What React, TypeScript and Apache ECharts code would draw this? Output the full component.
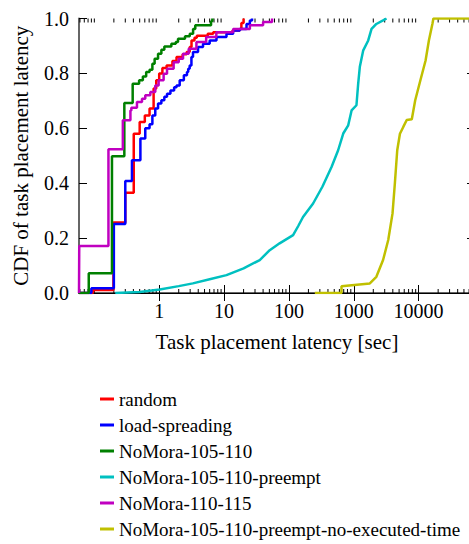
import React, { useEffect, useRef } from "react";
import * as echarts from "echarts";

const seriesNames = [
  "random",
  "load-spreading",
  "NoMora-105-110",
  "NoMora-105-110-preempt",
  "NoMora-110-115",
  "NoMora-105-110-preempt-no-executed-time",
];
const seriesColors = ["#ff0000", "#0000ff", "#008000", "#00c0c0", "#c000c0", "#c0c000"];
const stepped = [true, true, true, false, true, false];

const randomCdf = [
  [0.058, 0], [0.095, 0.011], [0.197, 0.257], [0.3, 0.365], [0.405, 0.58], [0.5, 0.623],
  [0.6, 0.647], [0.71, 0.672], [0.82, 0.745], [0.9, 0.775], [1.0, 0.8], [1.12, 0.82],
  [1.3, 0.829], [1.6, 0.845], [1.85, 0.86], [2.3, 0.87], [2.65, 0.878], [2.95, 0.896],
  [3.15, 0.92], [3.5, 0.93], [3.8, 0.937], [5.6, 0.944], [6.8, 0.95], [13.5, 0.956],
  [17.5, 0.962], [18.5, 0.984], [20, 1.0],
];
const loadSpreadingCdf = [
  [0.058, 0], [0.09, 0.017], [0.2, 0.251], [0.3, 0.408], [0.38, 0.484], [0.513, 0.563],
  [0.61, 0.6], [0.71, 0.615], [0.785, 0.647], [0.87, 0.672], [0.96, 0.69], [1.08, 0.702],
  [1.2, 0.715], [1.32, 0.726], [1.49, 0.738], [1.7, 0.75], [1.85, 0.756], [2.07, 0.775],
  [2.4, 0.793], [2.68, 0.805], [2.8, 0.817], [2.95, 0.829], [3.14, 0.86], [3.32, 0.878],
  [3.97, 0.896], [4.74, 0.908], [6.0, 0.92], [7.64, 0.933], [10.9, 0.944], [13.8, 0.956],
  [17.5, 0.962], [22.2, 0.98], [25, 0.993], [27, 1.0],
];
const nomora105Cdf = [
  [0.058, 0], [0.082, 0.072], [0.187, 0.498], [0.29, 0.692], [0.39, 0.762], [0.49, 0.775],
  [0.56, 0.789], [0.63, 0.805], [0.71, 0.813], [0.785, 0.835], [0.85, 0.853], [0.96, 0.872],
  [1.08, 0.886], [1.2, 0.898], [1.54, 0.908], [1.8, 0.914], [1.95, 0.926], [2.5, 0.935],
  [2.96, 0.944], [3.33, 0.962], [3.6, 0.975], [6.3, 0.99], [6.6, 1.0],
];
const nomora105PreemptCdf = [
  [0.21, 0], [0.5, 0.004], [1.02, 0.013], [2, 0.025], [3.3, 0.035], [6, 0.05], [10.9, 0.065],
  [20, 0.09], [35.5, 0.12], [50.6, 0.156], [71.9, 0.181], [116, 0.211], [140, 0.245],
  [165, 0.277], [236, 0.326], [328, 0.387], [454, 0.459], [574, 0.52], [688, 0.581],
  [821, 0.611], [925, 0.665], [1100, 0.684], [1170, 0.763], [1240, 0.824], [1400, 0.884],
  [1670, 0.92], [1880, 0.962], [2230, 0.98], [2830, 0.993], [3200, 1.0],
];
const nomora110Cdf = [
  [0.058, 0], [0.0585, 0.171], [0.165, 0.524], [0.275, 0.629], [0.36, 0.665], [0.372, 0.675],
  [0.454, 0.696], [0.543, 0.708], [0.61, 0.72], [0.73, 0.732], [0.87, 0.756], [0.98, 0.775],
  [1.17, 0.799], [1.32, 0.817], [1.67, 0.841], [2.0, 0.853], [2.33, 0.872], [2.85, 0.89],
  [3.75, 0.914], [5.3, 0.933], [7.6, 0.95], [13.8, 0.962], [25, 0.975], [40, 0.987], [55, 1.0],
];
const nomoraNoExecCdf = [
  [251, 0], [647, 0.0], [647, 0.025], [1770, 0.035], [2230, 0.059], [2830, 0.12],
  [3400, 0.193], [3960, 0.29], [4300, 0.399], [4680, 0.52], [5150, 0.58], [5800, 0.605],
  [6550, 0.63], [7850, 0.633], [8860, 0.702], [10650, 0.775], [12800, 0.847], [14400, 0.92],
  [16300, 0.98], [16900, 1.0], [74000, 1.0],
];
const seriesData = [
  randomCdf, loadSpreadingCdf, nomora105Cdf, nomora105PreemptCdf, nomora110Cdf, nomoraNoExecCdf,
];

const xMin = 0.058;
const xMax = 74000;
const xMajorTicks = [1, 10, 100, 1000, 10000];
const xMinorDecades = [0.01, 0.1, 1, 10, 100, 1000, 10000];
const yTicks = [0, 0.2, 0.4, 0.6, 0.8, 1.0];

const FONT = "'Liberation Serif', 'Times New Roman', serif";

export default function App() {
  const ref = useRef<HTMLDivElement>(null);
  useEffect(() => {
    const chart = echarts.init(ref.current!, null, { renderer: "svg" });
    const minorTicks: number[][] = [];
    xMinorDecades.forEach((d) => {
      for (let k = 2; k <= 10; k++) {
        const v = d * k;
        if (v > xMin && v < xMax && xMajorTicks.indexOf(Math.round(v * 1e6) / 1e6) < 0) {
          minorTicks.push([v, 0]);
        }
      }
    });
    const lineSeries = seriesNames.map((name, i) => ({
      name,
      type: "line",
      data: seriesData[i],
      step: stepped[i] ? "end" : false,
      showSymbol: false,
      symbol: "none",
      xAxisIndex: 0,
      yAxisIndex: 0,
      lineStyle: { color: seriesColors[i], width: 2.5 },
      itemStyle: { color: seriesColors[i] },
      z: 3,
    }));
    chart.setOption({
      animation: false,
      backgroundColor: "#ffffff",
      textStyle: { fontFamily: FONT },
      grid: {
        left: 79,
        top: 18.5,
        width: 396,
        height: 274.5,
        outerBoundsMode: "none",
        containLabel: false,
      },
      legend: {
        orient: "vertical",
        left: 100,
        top: 389,
        height: 155,
        padding: 0,
        itemWidth: 14,
        itemHeight: 3,
        itemGap: 6,
        icon: "rect",
        data: seriesNames,
        selectedMode: false,
        textStyle: {
          fontFamily: FONT,
          fontSize: 19,
          color: "#000",
          lineHeight: 20,
        },
      },
      xAxis: [
        {
          type: "log",
          logBase: 10,
          min: xMin,
          max: xMax,
          position: "bottom",
          name: "Task placement latency [sec]",
          nameLocation: "middle",
          nameGap: 38,
          nameTextStyle: { fontFamily: FONT, fontSize: 21, color: "#000" },
          axisLine: { show: true, lineStyle: { color: "#666", width: 2 } },
          axisTick: {
            show: true,
            inside: true,
            length: 8,
            customValues: xMajorTicks,
            lineStyle: { color: "#000", width: 1 },
          },
          axisLabel: {
            show: true,
            customValues: xMajorTicks,
            margin: 8,
            fontFamily: FONT,
            fontSize: 20,
            color: "#000",
            formatter: (v: number) => String(Math.round(v)),
          },
          splitLine: { show: false },
          minorTick: { show: false },
        },
        {
          type: "log",
          logBase: 10,
          min: xMin,
          max: xMax,
          position: "top",
          axisLine: { show: true, lineStyle: { color: "#000", width: 1 } },
          axisTick: {
            show: true,
            inside: true,
            length: 8,
            customValues: xMajorTicks,
            lineStyle: { color: "#000", width: 1 },
          },
          axisLabel: { show: false },
          splitLine: { show: false },
        },
      ],
      yAxis: [
        {
          type: "value",
          min: 0,
          max: 1,
          interval: 0.2,
          position: "left",
          name: "CDF of task placement latency",
          nameLocation: "middle",
          nameGap: 48,
          nameTextStyle: { fontFamily: FONT, fontSize: 21, color: "#000" },
          axisLine: { show: true, lineStyle: { color: "#666", width: 2 } },
          axisTick: { show: true, inside: true, length: 8, lineStyle: { color: "#000", width: 1 } },
          axisLabel: {
            show: true,
            margin: 10,
            fontFamily: FONT,
            fontSize: 20,
            color: "#000",
            customValues: yTicks,
            formatter: (v: number) => v.toFixed(1),
          },
          splitLine: { show: false },
        },
        {
          type: "value",
          min: 0,
          max: 1,
          interval: 0.2,
          position: "right",
          axisLine: { show: true, lineStyle: { color: "#000", width: 1 } },
          axisTick: { show: true, inside: true, length: 8, lineStyle: { color: "#000", width: 1 } },
          axisLabel: { show: false },
          splitLine: { show: false },
        },
      ],
      series: [
        ...lineSeries,
        {
          name: "minor-ticks",
          type: "custom",
          xAxisIndex: 0,
          yAxisIndex: 0,
          silent: true,
          clip: false,
          z: 1,
          data: minorTicks,
          renderItem: (params: any, api: any) => {
            const v = api.value(0);
            const b = api.coord([v, 0]);
            const t = api.coord([v, 1]);
            return {
              type: "group",
              children: [
                {
                  type: "line",
                  shape: { x1: b[0], y1: b[1], x2: b[0], y2: b[1] - 4 },
                  style: { stroke: "#000", lineWidth: 1 },
                },
                {
                  type: "line",
                  shape: { x1: t[0], y1: t[1], x2: t[0], y2: t[1] + 4 },
                  style: { stroke: "#000", lineWidth: 1 },
                },
              ],
            };
          },
        },
      ],
    });
    return () => chart.dispose();
  }, []);
  return (
    <div
      ref={ref}
      style={{ position: "fixed", left: 0, top: 0, width: 469, height: 544, background: "#fff" }}
    />
  );
}
